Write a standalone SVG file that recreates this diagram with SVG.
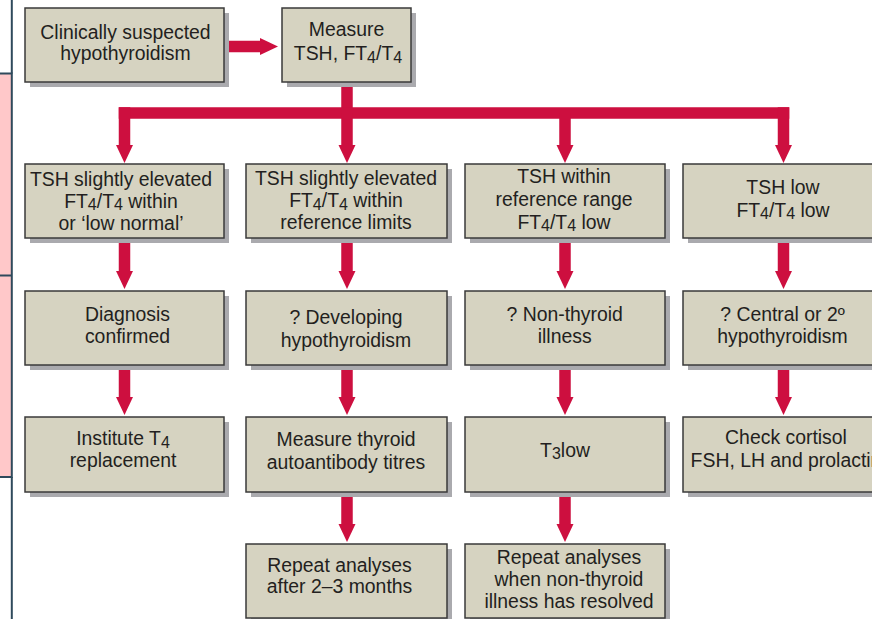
<svg xmlns="http://www.w3.org/2000/svg" width="872" height="619" viewBox="0 0 872 619">
  <style>
    .shadow { fill: #aaaaae; }
    .box { fill: #d6d3c1; stroke: #3a3a3a; stroke-width: 1.5; }
    .label { font-family: "Liberation Sans", Arial, sans-serif; font-size: 19.4px; fill: #231f20; text-anchor: middle; }
    .sub { font-size: 16px; }
    .flow { fill: none; stroke: #cd0f3f; stroke-width: 11.5; }
    .rule { fill: none; stroke: #2f4a5c; stroke-width: 2; }
  </style>
  <defs>
    <marker id="head" viewBox="0 -9 18 18" markerWidth="18" markerHeight="18" refX="1" refY="0" orient="auto" markerUnits="userSpaceOnUse" overflow="visible">
      <path d="M0,-8.5 L18,0 L0,8.5 Z" fill="#cd0f3f"/>
    </marker>
  </defs>

  <!-- side band -->
  <g id="side-band">
    <rect x="-3" y="73.5" width="14.8" height="403.5" fill="#ffc8c9" stroke="#2f4a5c" stroke-width="2"/>
    <line class="rule" x1="-3" y1="275.5" x2="11.8" y2="275.5"/>
    <line class="rule" x1="11.8" y1="0" x2="11.8" y2="73.5"/>
    <line class="rule" x1="11.8" y1="477" x2="11.8" y2="619"/>
  </g>

  <!-- connectors -->
  <g id="connectors">
    <path class="flow" d="M224,46.5 H261" stroke-width="11" marker-end="url(#head)"/>
    <path class="flow" d="M347,82 V113"/>
    <path class="flow" d="M118.75,113 H789.25"/>
    <path class="flow" d="M124.5,107.25 V146" marker-end="url(#head)"/>
    <path class="flow" d="M347,113 V146" marker-end="url(#head)"/>
    <path class="flow" d="M565,113 V146" marker-end="url(#head)"/>
    <path class="flow" d="M783.5,107.25 V146" marker-end="url(#head)"/>

    <path class="flow" d="M124.5,238 V272" marker-end="url(#head)"/>
    <path class="flow" d="M347,238 V272" marker-end="url(#head)"/>
    <path class="flow" d="M565,238 V272" marker-end="url(#head)"/>
    <path class="flow" d="M783.5,238 V272" marker-end="url(#head)"/>

    <path class="flow" d="M124.5,365 V398" marker-end="url(#head)"/>
    <path class="flow" d="M347,365 V398" marker-end="url(#head)"/>
    <path class="flow" d="M565,365 V398" marker-end="url(#head)"/>
    <path class="flow" d="M783.5,365 V398" marker-end="url(#head)"/>

    <path class="flow" d="M347,492 V525" marker-end="url(#head)"/>
    <path class="flow" d="M565,492 V525" marker-end="url(#head)"/>
  </g>

  <!-- top row -->
  <g id="suspected">
    <rect class="shadow" x="30" y="13" width="199" height="74"/>
    <rect class="box" x="25" y="8" width="199" height="74"/>
    <text class="label" x="125.5" y="39.3">Clinically suspected</text>
    <text class="label" x="125.5" y="59.8">hypothyroidism</text>
  </g>
  <g id="measure">
    <rect class="shadow" x="287" y="13" width="129" height="74"/>
    <rect class="box" x="282" y="8" width="129" height="74"/>
    <text class="label" x="346.6" y="36">Measure</text>
    <text class="label" x="348" y="60">TSH, FT<tspan class="sub" dy="2.5">4</tspan><tspan dy="-2.5">/T</tspan><tspan class="sub" dy="2.5">4</tspan></text>
  </g>

  <!-- results row -->
  <g id="tsh-slight-low-normal">
    <rect class="shadow" x="30" y="169" width="199" height="74"/>
    <rect class="box" x="25" y="164" width="199" height="74"/>
    <text class="label" x="121" y="185.7">TSH slightly elevated</text>
    <text class="label" x="121" y="207.5">FT<tspan class="sub" dy="2.5">4</tspan><tspan dy="-2.5">/T</tspan><tspan class="sub" dy="2.5">4</tspan><tspan dy="-2.5"> within</tspan></text>
    <text class="label" x="121" y="230">or ‘low normal’</text>
  </g>
  <g id="tsh-slight-in-range">
    <rect class="shadow" x="251" y="169" width="201" height="74"/>
    <rect class="box" x="246" y="164" width="201" height="74"/>
    <text class="label" x="346" y="185">TSH slightly elevated</text>
    <text class="label" x="346" y="207">FT<tspan class="sub" dy="2.5">4</tspan><tspan dy="-2.5">/T</tspan><tspan class="sub" dy="2.5">4</tspan><tspan dy="-2.5"> within</tspan></text>
    <text class="label" x="346" y="229.3">reference limits</text>
  </g>
  <g id="tsh-normal-ft4-low">
    <rect class="shadow" x="470" y="169" width="200" height="74"/>
    <rect class="box" x="465" y="164" width="200" height="74"/>
    <text class="label" x="564" y="183.3">TSH within</text>
    <text class="label" x="564" y="206">reference range</text>
    <text class="label" x="564" y="228.7">FT<tspan class="sub" dy="2.5">4</tspan><tspan dy="-2.5">/T</tspan><tspan class="sub" dy="2.5">4</tspan><tspan dy="-2.5"> low</tspan></text>
  </g>
  <g id="tsh-low-ft4-low">
    <rect class="shadow" x="688" y="169" width="200" height="74"/>
    <rect class="box" x="683" y="164" width="200" height="74"/>
    <text class="label" x="783" y="194">TSH low</text>
    <text class="label" x="783" y="216.7">FT<tspan class="sub" dy="2.5">4</tspan><tspan dy="-2.5">/T</tspan><tspan class="sub" dy="2.5">4</tspan><tspan dy="-2.5"> low</tspan></text>
  </g>

  <!-- interpretation row -->
  <g id="diagnosis-confirmed">
    <rect class="shadow" x="30" y="296" width="199" height="74"/>
    <rect class="box" x="25" y="291" width="199" height="74"/>
    <text class="label" x="127.5" y="320.7">Diagnosis</text>
    <text class="label" x="127.5" y="342.7">confirmed</text>
  </g>
  <g id="developing">
    <rect class="shadow" x="251" y="296" width="201" height="74"/>
    <rect class="box" x="246" y="291" width="201" height="74"/>
    <text class="label" x="346" y="324">? Developing</text>
    <text class="label" x="346" y="346.5">hypothyroidism</text>
  </g>
  <g id="non-thyroid">
    <rect class="shadow" x="470" y="296" width="200" height="74"/>
    <rect class="box" x="465" y="291" width="200" height="74"/>
    <text class="label" x="564.7" y="320.7">? Non-thyroid</text>
    <text class="label" x="564.7" y="342.7">illness</text>
  </g>
  <g id="central">
    <rect class="shadow" x="688" y="296" width="200" height="74"/>
    <rect class="box" x="683" y="291" width="200" height="74"/>
    <text class="label" x="782.5" y="320.7">? Central or 2º</text>
    <text class="label" x="782.5" y="343.3">hypothyroidism</text>
  </g>

  <!-- action row -->
  <g id="t4-replacement">
    <rect class="shadow" x="30" y="422" width="199" height="75"/>
    <rect class="box" x="25" y="417" width="199" height="75"/>
    <text class="label" x="123" y="445">Institute T<tspan class="sub" dy="2.5">4</tspan></text>
    <text class="label" x="123" y="467.3">replacement</text>
  </g>
  <g id="autoantibody">
    <rect class="shadow" x="251" y="422" width="201" height="75"/>
    <rect class="box" x="246" y="417" width="201" height="75"/>
    <text class="label" x="346" y="446">Measure thyroid</text>
    <text class="label" x="346" y="468.5">autoantibody titres</text>
  </g>
  <g id="t3-low">
    <rect class="shadow" x="470" y="422" width="200" height="75"/>
    <rect class="box" x="465" y="417" width="200" height="75"/>
    <text class="label" x="565" y="456.7">T<tspan class="sub" dy="2.5">3</tspan><tspan dy="-2.5">low</tspan></text>
  </g>
  <g id="cortisol">
    <rect class="shadow" x="688" y="422" width="200" height="75"/>
    <rect class="box" x="683" y="417" width="200" height="75"/>
    <text class="label" x="786" y="444">Check cortisol</text>
    <text class="label" x="786" y="467.3">FSH, LH and prolactin</text>
  </g>

  <!-- follow-up row -->
  <g id="repeat-months">
    <rect class="shadow" x="251" y="549" width="201" height="74"/>
    <rect class="box" x="246" y="544" width="201" height="74"/>
    <text class="label" x="339.5" y="571.7">Repeat analyses</text>
    <text class="label" x="339.5" y="593.3">after 2–3 months</text>
  </g>
  <g id="repeat-resolved">
    <rect class="shadow" x="470" y="549" width="200" height="74"/>
    <rect class="box" x="465" y="544" width="200" height="74"/>
    <text class="label" x="569" y="564.3">Repeat analyses</text>
    <text class="label" x="569" y="586">when non-thyroid</text>
    <text class="label" x="569" y="608.3">illness has resolved</text>
  </g>
</svg>
